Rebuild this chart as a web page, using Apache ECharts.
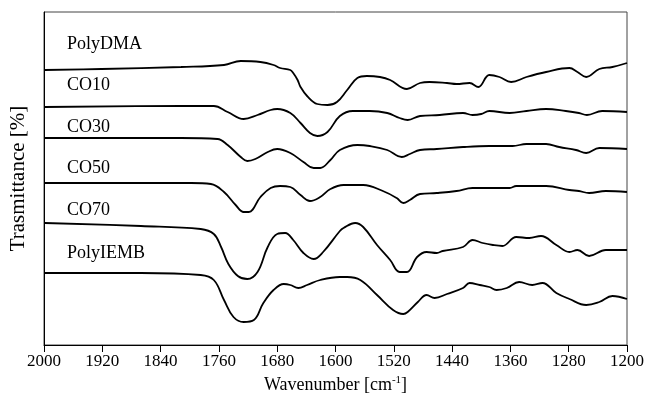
<!DOCTYPE html>
<html>
<head>
<meta charset="utf-8">
<script src="https://cdn.jsdelivr.net/npm/echarts@6/dist/echarts.min.js"></script>
<style>html,body{margin:0;padding:0;background:#fff}#c{width:647px;height:401px}</style>
</head>
<body>
<div id="c"></div>
<script>
// x tick labels (wavenumber, cm^-1)
const xTicks = [2000,1920,1840,1760,1680,1600,1520,1440,1360,1280,1200];
const seriesNames = ['PolyDMA','CO10','CO30','CO50','CO70','PolyIEMB'];

// [wavenumber, offset transmittance (arb.)]
const polyDMA = [[1999,270],[1921,271],[1812,273],[1753,275],[1730,279],[1703,278],[1685,275],[1676,272],[1662,270],[1658,267],[1652,260],[1648,253],[1639,244],[1625,236],[1611,235],[1598,238],[1584,250],[1570,262],[1557,264],[1539,263],[1525,260],[1502,251],[1484,257],[1471,258],[1447,257],[1434,256],[1416,257],[1404,253],[1389,265],[1375,263],[1359,258],[1338,263],[1311,268],[1279,272],[1268,268],[1256,263],[1238,271],[1220,273],[1200,277]];
const co10 = [[1999,233],[1812,234],[1767,234],[1748,228],[1726,221],[1707,225],[1689,230],[1680,231],[1662,227],[1648,217],[1635,207],[1625,204],[1611,208],[1594,224],[1576,229],[1553,229],[1529,227],[1512,222],[1501,220],[1484,224],[1457,225],[1425,227],[1412,225],[1400,226],[1389,229],[1361,227],[1338,229],[1311,231],[1284,229],[1266,227],[1255,225],[1234,229],[1200,228]];
const co30 = [[1999,202],[1812,202],[1762,201],[1748,195],[1730,183],[1721,179],[1710,181],[1693,188],[1680,191],[1662,187],[1644,178],[1630,172],[1621,172],[1607,180],[1594,190],[1570,195],[1553,194],[1529,190],[1509,183],[1498,186],[1484,190],[1461,191],[1425,193],[1389,194],[1357,194],[1338,196],[1311,196],[1293,193],[1270,190],[1256,187],[1238,192],[1200,191]];
const co50 = [[1999,157],[1798,157],[1771,156],[1753,148],[1737,135],[1726,128],[1719,128],[1703,143],[1689,152],[1676,154],[1662,153],[1648,145],[1635,139],[1621,143],[1607,151],[1589,155],[1562,155],[1535,149],[1516,142],[1507,137],[1498,140],[1484,146],[1461,147],[1434,149],[1412,152],[1389,152],[1361,152],[1352,154],[1311,154],[1279,150],[1266,149],[1252,147],[1229,149],[1200,148]];
const co70 = [[1999,117],[1867,114],[1785,111],[1767,106],[1757,93],[1747,76],[1734,64],[1721,61],[1707,68],[1693,93],[1680,106],[1669,107],[1658,100],[1644,87],[1630,81],[1617,88],[1594,109],[1589,112],[1573,117],[1562,113],[1543,95],[1525,80],[1512,68],[1502,68],[1488,83],[1475,88],[1461,87],[1453,89],[1425,93],[1412,100],[1398,97],[1384,95],[1371,94],[1352,103],[1334,102],[1318,104],[1297,95],[1279,88],[1268,90],[1252,84],[1229,90],[1200,90]];
const polyIEMB = [[1999,67],[1867,67],[1785,65],[1767,60],[1753,40],[1740,23],[1726,18],[1712,20],[1699,37],[1685,50],[1671,56],[1662,55],[1651,52],[1639,55],[1621,60],[1594,63],[1584,63],[1566,60],[1543,45],[1521,30],[1507,26],[1501,28],[1487,38],[1475,45],[1464,42],[1447,46],[1425,52],[1416,57],[1402,55],[1389,53],[1379,50],[1365,52],[1348,58],[1330,55],[1316,57],[1297,47],[1279,41],[1256,35],[1238,38],[1220,44],[1200,41]];

const allData = [polyDMA, co10, co30, co50, co70, polyIEMB];
const labelTops = [46, 87, 129, 170, 212, 255];

const FONT = '"Liberation Serif", "Times New Roman", serif';
const chart = echarts.init(document.getElementById('c'), null, {renderer:'canvas'});
chart.setOption({
  animation: false,
  backgroundColor: '#fff',
  grid: {left: 42, right: 19, top: 12, bottom: 56, show: true, borderColor: '#444', borderWidth: 1, containLabel: false},
  xAxis: {
    type: 'value', inverse: true, min: xTicks[xTicks.length-1], max: xTicks[0], interval: 80,
    axisLine: {show: true, onZero: false, lineStyle: {color: '#000', width: 1}},
    axisTick: {show: true, inside: false, length: 7, lineStyle: {color: '#000'}},
    axisLabel: {color: '#000', fontFamily: FONT, fontSize: 17, margin: 8, formatter: v => String(v)},
    splitLine: {show: false},
    name: '{n|Wavenumber [cm}{s|-1}{n|]}',
    nameLocation: 'middle', nameGap: 30,
    nameTextStyle: {rich: {
      n: {fontFamily: FONT, fontSize: 18, color: '#000'},
      s: {fontFamily: FONT, fontSize: 11, color: '#000', verticalAlign: 'top', padding: [0,0,10,0]}
    }}
  },
  yAxis: {
    type: 'value', min: -5, max: 328,
    axisLine: {show: true, lineStyle: {color: '#000', width: 1}},
    axisTick: {show: false}, axisLabel: {show: false}, splitLine: {show: false},
    name: 'Trasmittance [%]', nameLocation: 'middle', nameGap: 15,
    nameTextStyle: {fontFamily: FONT, fontSize: 21, color: '#000'}
  },
  graphic: seriesNames.map((n, i) => ({
    type: 'text', left: 67, top: labelTops[i] - 11,
    style: {text: n, fontFamily: FONT, fontSize: 18, fill: '#000'}
  })),
  series: allData.map((d, i) => ({
    name: seriesNames[i], type: 'line', data: d, showSymbol: false, smooth: 0.4,
    lineStyle: {color: '#000', width: 1.8}
  }))
});
</script>
</body>
</html>
